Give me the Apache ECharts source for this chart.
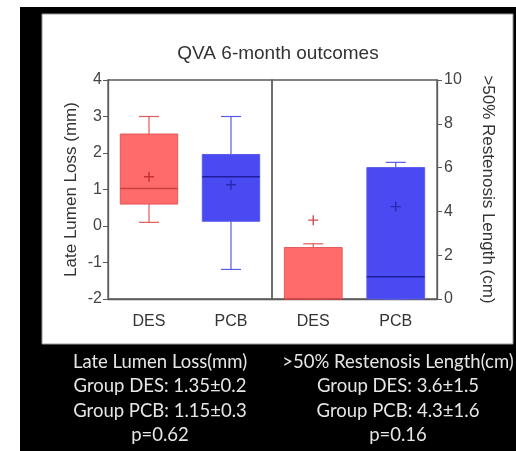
<!DOCTYPE html>
<html lang="en" style="height: 100%">
<head>
    <meta charset="UTF-8">
    <title>QVA 6-month outcomes</title>
    <script src="https://cdn.jsdelivr.net/npm/echarts@6/dist/echarts.min.js"></script>
</head>
<body style="height: 100%; margin: 0; background: #fff">
<div id="container" style="width: 516px; height: 451px"></div>

<script type="text/javascript">
    // data
    var categories = ['DES', 'PCB'];
    // [min, q1, median, q3, max]
    var lllBoxes = [[0.1, 0.6, 1.03, 2.52, 3.0], [-1.19, 0.13, 1.35, 1.96, 3.0]];
    var lllMeans = [1.35, 1.13];
    var rslBoxes = [[0, 0, 0, 2.35, 2.52], [0, 0, 1.02, 6.0, 6.24]];
    var rslMeans = [3.6, 4.22];
    var leftTicks = [-2, 4, 1];
    var rightTicks = [0, 10, 2];
    var summaryLeft = ['Late Lumen Loss(mm)', 'Group DES: 1.35\u00b10.2', 'Group PCB: 1.15\u00b10.3', 'p=0.62'];
    var summaryRight = ['>50% Restenosis Length(cm)', 'Group DES: 3.6\u00b11.5', 'Group PCB: 4.3\u00b11.6', 'p=0.16'];

    var fills = ['#ff6b6b', '#4a4af2'];
    var strokes = ['#e05a5a', '#5a5ae8'];
    var medians = ['#c84040', '#1c1c9c'];
    var meanColors = ['#c02020', '#2020a0'];

    var dom = document.getElementById('container');
    var myChart = echarts.init(dom, null, {renderer: 'canvas'});

    function boxRows(boxes) {
        return boxes.map(function (b, i) { return [i].concat(b); });
    }

    function renderBox(params, api) {
        var i = api.value(0);
        var bw = api.size([1, 0])[0] * 0.7;
        var cap = 20;
        var x = api.coord([i, 0])[0];
        var yMin = api.coord([i, api.value(1)])[1];
        var yQ1 = api.coord([i, api.value(2)])[1];
        var yMed = api.coord([i, api.value(3)])[1];
        var yQ3 = api.coord([i, api.value(4)])[1];
        var yMax = api.coord([i, api.value(5)])[1];
        var lineStyle = {stroke: strokes[i], lineWidth: 1.2};
        return {
            type: 'group',
            children: [
                {type: 'line', shape: {x1: x, y1: yQ3, x2: x, y2: yMax}, style: lineStyle},
                {type: 'line', shape: {x1: x, y1: yQ1, x2: x, y2: yMin}, style: lineStyle},
                {type: 'line', shape: {x1: x - cap / 2, y1: yMax, x2: x + cap / 2, y2: yMax}, style: lineStyle},
                {type: 'line', shape: {x1: x - cap / 2, y1: yMin, x2: x + cap / 2, y2: yMin}, style: lineStyle},
                {type: 'rect', shape: {x: x - bw / 2, y: yQ3, width: bw, height: yQ1 - yQ3},
                    style: {fill: fills[i], stroke: strokes[i], lineWidth: 1}},
                {type: 'line', shape: {x1: x - bw / 2, y1: yMed, x2: x + bw / 2, y2: yMed},
                    style: {stroke: medians[i], lineWidth: 1.5}}
            ]
        };
    }

    var plus = 'path://M4.3,0H5.7V4.3H10V5.7H5.7V10H4.3V5.7H0V4.3H4.3Z';
    function meanRows(means) {
        return means.map(function (m, i) {
            return {value: [i, m], itemStyle: {color: meanColors[i]}};
        });
    }

    var axisGray = '#5a5a5a';
    var labelGray = '#444';
    var font = "'Liberation Sans', Arial, sans-serif";

    function textLines(lines, cx) {
        return lines.map(function (t, k) {
            return {
                type: 'text', x: cx, y: 362 + k * 24.5, z: 10,
                style: {text: t, fill: '#e6e6e6', font: '18.5px Lato, sans-serif',
                    textAlign: 'center', textVerticalAlign: 'middle'}
            };
        });
    }

    var option = {
        animation: false,
        title: {
            text: 'QVA 6-month outcomes',
            left: 273, top: 39, textAlign: 'center',
            textStyle: {fontFamily: font, fontSize: 19, fontWeight: 'normal', color: '#333'}
        },
        graphic: {
            elements: [
                {type: 'rect', shape: {x: 20, y: 7, width: 496, height: 444}, style: {fill: '#000'}, z: -100},
                {type: 'rect', shape: {x: 42, y: 14, width: 471, height: 330},
                    style: {fill: '#fff', stroke: '#999', lineWidth: 1}, z: -99}
            ].concat(textLines(summaryLeft, 160), textLines(summaryRight, 398))
        },
        grid: [
            {left: 108, top: 80, width: 164, height: 219, show: true, borderColor: axisGray, borderWidth: 1.3},
            {left: 272, top: 80, width: 165, height: 219, show: true, borderColor: axisGray, borderWidth: 1.3}
        ],
        xAxis: [0, 1].map(function (g) {
            return {
                type: 'category', gridIndex: g, data: categories,
                axisLine: {onZero: false, lineStyle: {color: axisGray, width: 1.3}},
                axisTick: {show: false},
                axisLabel: {margin: 15, fontFamily: font, fontSize: 16, color: '#333'},
                splitLine: {show: false}
            };
        }),
        yAxis: [
            {
                type: 'value', gridIndex: 0, position: 'left',
                min: leftTicks[0], max: leftTicks[1], interval: leftTicks[2],
                name: 'Late Lumen Loss (mm)', nameLocation: 'middle', nameGap: 28, nameRotate: 90,
                nameTextStyle: {fontFamily: font, fontSize: 17, color: '#333'},
                axisLine: {show: true, lineStyle: {color: axisGray, width: 1.3}},
                axisTick: {show: true, length: 5, lineStyle: {color: axisGray}},
                axisLabel: {margin: 6, fontFamily: font, fontSize: 16, color: labelGray},
                splitLine: {show: false}
            },
            {
                type: 'value', gridIndex: 1, position: 'right',
                min: rightTicks[0], max: rightTicks[1], interval: rightTicks[2],
                name: '>50% Restenosis Length (cm)', nameLocation: 'middle', nameGap: 42, nameRotate: -90,
                nameTextStyle: {fontFamily: font, fontSize: 17, color: '#333'},
                axisLine: {show: true, lineStyle: {color: axisGray, width: 1.3}},
                axisTick: {show: true, length: 5, lineStyle: {color: axisGray}},
                axisLabel: {margin: 7, fontFamily: font, fontSize: 16, color: labelGray},
                splitLine: {show: false}
            }
        ],
        series: [
            {type: 'custom', xAxisIndex: 0, yAxisIndex: 0, renderItem: renderBox,
                encode: {x: 0, y: [1, 2, 3, 4, 5]}, data: boxRows(lllBoxes)},
            {type: 'custom', xAxisIndex: 1, yAxisIndex: 1, renderItem: renderBox,
                encode: {x: 0, y: [1, 2, 3, 4, 5]}, data: boxRows(rslBoxes)},
            {type: 'scatter', xAxisIndex: 0, yAxisIndex: 0, symbol: plus, symbolSize: 10, z: 5,
                data: meanRows(lllMeans)},
            {type: 'scatter', xAxisIndex: 1, yAxisIndex: 1, symbol: plus, symbolSize: 10, z: 5,
                data: meanRows(rslMeans)}
        ]
    };
    myChart.setOption(option, true);
</script>
</body>
</html>
